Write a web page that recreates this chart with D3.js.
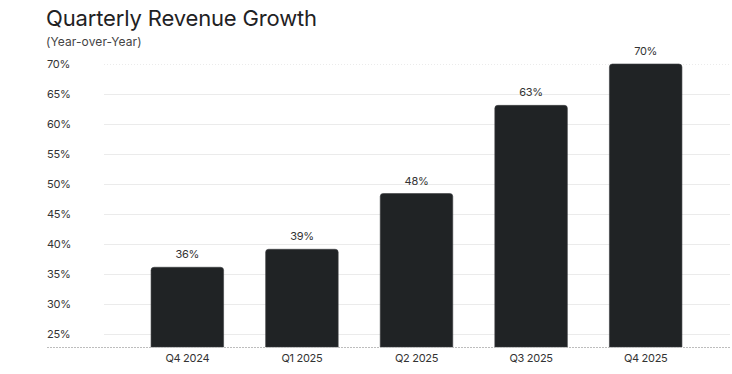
<!DOCTYPE html>
<html>
<head>
<meta charset="utf-8">
<script src="https://cdn.jsdelivr.net/npm/d3@7/dist/d3.min.js"></script>
<style>
    html, body { margin: 0; padding: 0; background: #ffffff; }
    svg { display: block; font-family: Inter, "Noto Sans", sans-serif; }
</style>
</head>
<body>
<div class="chart-holder"></div>
<script>
(function () {

    'use strict';

    var quarters = ['Q4 2024', 'Q1 2025', 'Q2 2025', 'Q3 2025', 'Q4 2025'];
    var growthValues = [36.1, 39.1, 48.4, 63.1, 70];
    var tickValues = [25, 30, 35, 40, 45, 50, 55, 60, 65, 70];

    var width = 732;
    var height = 374;

    var svg = d3.select('.chart-holder')
        .append('svg')
        .attr('width', width)
        .attr('height', height);

    // title block
    svg.append('text')
        .attr('x', 46)
        .attr('y', 26)
        .attr('fill', '#1f2224')
        .style('font-size', '22px')
        .style('letter-spacing', '-0.15px')
        .text('Quarterly Revenue Growth');

    svg.append('text')
        .attr('x', 46)
        .attr('y', 46)
        .attr('fill', '#444')
        .style('font-size', '12px')
        .style('letter-spacing', '0.1px')
        .text('(Year-over-Year)');

    var x = d3.scaleBand()
        .domain(quarters)
        .range([109, 724])
        .paddingInner(0.367)
        .paddingOuter(0.367);

    var y = d3.scaleLinear()
        .domain([22.8, 70])
        .range([347, 64]);

    // gridlines
    svg.append('g')
        .selectAll('line')
        .data(tickValues)
        .enter()
        .append('line')
        .attr('x1', 104)
        .attr('x2', 730)
        .attr('y1', function (d) { return Math.round(y(d)) + 0.5; })
        .attr('y2', function (d) { return Math.round(y(d)) + 0.5; })
        .attr('stroke', '#ebebeb')
        .attr('stroke-width', 1)
        .attr('stroke-dasharray', function (d) { return d === 70 ? '1,2' : null; });

    // y tick labels
    svg.append('g')
        .selectAll('text')
        .data(tickValues)
        .enter()
        .append('text')
        .attr('x', 47)
        .attr('y', function (d) { return y(d); })
        .attr('dy', '0.36em')
        .attr('fill', '#333')
        .style('font-size', '11px')
        .style('letter-spacing', '-0.3px')
        .text(function (d) { return d + '%'; });

    var data = quarters.map(function (q, i) {
        return {name: q, value: growthValues[i]};
    });

    var r = 3;
    var barPath = function (d) {
        var x0 = x(d.name);
        var w = x.bandwidth();
        var top = y(d.value);
        var bottom = y(22.8);
        return 'M' + x0 + ',' + bottom +
            'V' + (top + r) +
            'Q' + x0 + ',' + top + ' ' + (x0 + r) + ',' + top +
            'H' + (x0 + w - r) +
            'Q' + (x0 + w) + ',' + top + ' ' + (x0 + w) + ',' + (top + r) +
            'V' + bottom + 'Z';
    };

    svg.append('g')
        .selectAll('path')
        .data(data)
        .enter()
        .append('path')
        .attr('d', barPath)
        .attr('fill', '#202325')
        .attr('stroke', '#3a3d3f')
        .attr('stroke-width', 0.6);

    // value labels
    svg.append('g')
        .selectAll('text')
        .data(data)
        .enter()
        .append('text')
        .attr('x', function (d) { return x(d.name) + x.bandwidth() / 2; })
        .attr('y', function (d) { return y(d.value) - 9; })
        .attr('text-anchor', 'middle')
        .attr('fill', '#333')
        .style('font-size', '11px')
        .style('letter-spacing', '-0.3px')
        .text(function (d) { return Math.round(d.value) + '%'; });

    // baseline
    svg.append('line')
        .attr('x1', 47)
        .attr('x2', 730)
        .attr('y1', 347.5)
        .attr('y2', 347.5)
        .attr('stroke', '#bdbdbd')
        .attr('stroke-width', 1)
        .attr('stroke-dasharray', '2,1');

    // x labels
    svg.append('g')
        .selectAll('text')
        .data(quarters)
        .enter()
        .append('text')
        .attr('x', function (d) { return x(d) + x.bandwidth() / 2; })
        .attr('y', 362)
        .attr('text-anchor', 'middle')
        .attr('fill', '#333')
        .style('font-size', '11px')
        .style('letter-spacing', '-0.3px')
        .text(function (d) { return d; });

}());
</script>
</body>
</html>
